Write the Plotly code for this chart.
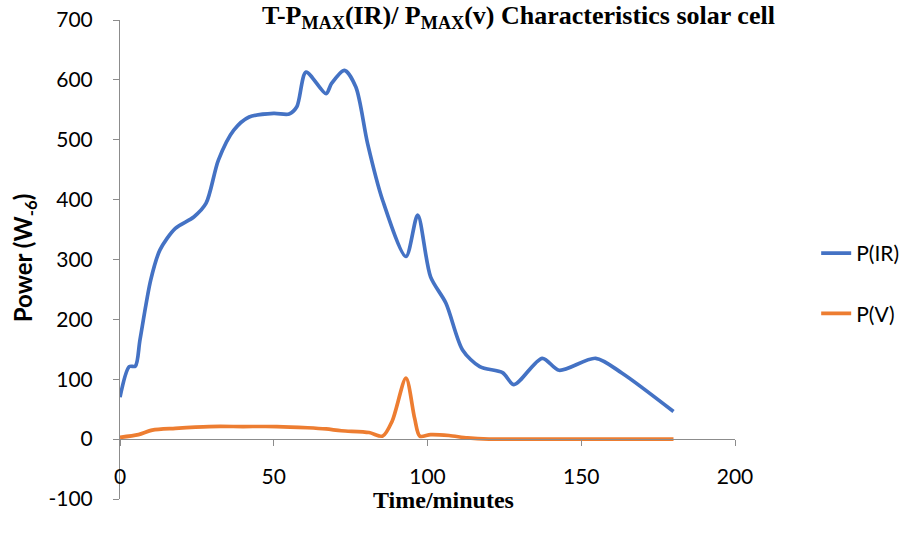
import plotly.graph_objects as go

# P(IR) series
t_ir = [0, 3, 5, 6.5, 10, 13, 18, 24, 28, 32, 37, 42, 50, 55, 57.5, 60.5, 67, 68.8, 73, 76.7, 80.5, 85.4, 93, 96.8, 101, 106, 111.4, 117, 124.4, 128.1, 137.3, 142.8, 154.7, 163.3, 180]
p_ir = [70, 121, 122, 166, 266, 316, 352, 371, 394, 466, 516, 538, 544, 543, 555, 613, 577, 594, 616, 588, 494, 399, 305, 374, 271, 227, 149, 121, 111, 91, 135, 115, 135, 110, 46]

# P(V) series
t_v = [0, 6, 10.5, 18, 29, 40, 51, 61, 67, 72, 81, 85.4, 88.5, 93, 95.8, 97.5, 101, 107, 113, 120, 130, 150, 180]
p_v = [3, 7.5, 15, 18, 21, 21, 21, 19, 17, 14, 11, 5, 30, 102, 35, 5, 7.5, 6, 2, 0, 0, 0, 0]

x_ticks = [0, 50, 100, 150, 200]
y_ticks = [-100, 0, 100, 200, 300, 400, 500, 600, 700]
y_tick_labels = ["-100", "0", "100", "200", "300", "400", "500", "600", "700"]

fig = go.Figure()
fig.add_trace(go.Scatter(x=t_ir, y=p_ir, name="P(IR)", mode="lines",
                         line=dict(color="#4472C4", width=3.7, shape="spline", smoothing=0.8),
                         legendgroup="a"))
fig.add_trace(go.Scatter(x=t_v, y=p_v, name="P(V)", mode="lines",
                         line=dict(color="#ED7D31", width=3.7, shape="spline", smoothing=0.8),
                         legendgroup="b"))

axis_gray = "#8c8c8c"
fig.update_layout(
    width=908, height=533,
    margin=dict(l=120.3, r=173, t=19.5, b=33.5, autoexpand=False),
    paper_bgcolor="white", plot_bgcolor="white",
    font=dict(family="Lato", size=21, color="black"),
    showlegend=True,
    legend=dict(x=1.132, y=0.45, xanchor="left", yanchor="middle",
                font=dict(family="Lato", size=21, color="black"),
                tracegroupgap=30, bgcolor="rgba(0,0,0,0)"),
    xaxis=dict(range=[0, 200], tickvals=x_ticks, showgrid=False, zeroline=False,
               showline=True, linecolor=axis_gray, linewidth=1,
               ticks="outside", ticklen=6, tickcolor=axis_gray,
               anchor="free", position=0.125, ticklabelstandoff=13,
               tickfont=dict(family="Lato", size=21, color="black")),
    yaxis=dict(range=[-100, 700], tickvals=y_ticks, ticktext=y_tick_labels,
               showgrid=False, zeroline=False,
               showline=True, linecolor=axis_gray, linewidth=1,
               ticks="outside", ticklen=6, tickcolor=axis_gray,
               ticklabelstandoff=16,
               tickfont=dict(family="Lato", size=21, color="black")),
    annotations=[
        dict(text="<b>T-P<sub>MAX</sub>(IR)/ P<sub>MAX</sub>(v) Characteristics solar cell</b>",
             xref="paper", yref="paper", x=0.648, y=1.006, xanchor="center", yanchor="middle",
             showarrow=False, font=dict(family="Liberation Serif", size=26, color="black")),
        dict(text="<b>Time/minutes</b>", xref="paper", yref="paper", x=0.5265, y=-0.002,
             xanchor="center", yanchor="middle", showarrow=False,
             font=dict(family="Liberation Serif", size=24, color="black")),
        dict(text="<b>Power (W<sub>-6</sub>)</b>", xref="paper", yref="paper", x=-0.155, y=0.502,
             xanchor="center", yanchor="middle", textangle=-90, showarrow=False,
             font=dict(family="Lato", size=24, color="black")),
    ],
)
fig.write_html("out.html", config={"displayModeBar": False},
               post_script="document.body.style.margin='0px';")
